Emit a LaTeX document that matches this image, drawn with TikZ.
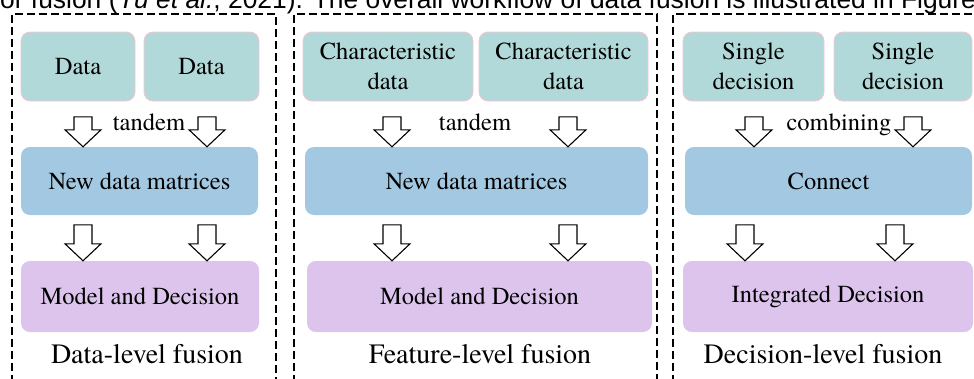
\documentclass[tikz,border=0pt]{standalone}
\usepackage{fontspec}
\setmainfont{texgyretermes}[Extension=.otf, UprightFont=*-regular,
  BoldFont=*-bold, ItalicFont=*-italic, BoldItalicFont=*-bolditalic]
\newfontfamily\runningfont{Liberation Sans}
\usetikzlibrary{calc}
\usetikzlibrary{positioning}

\definecolor{tealbox}{HTML}{B1D9D9}
\definecolor{pinkedge}{HTML}{F5C6D0}
\definecolor{bluebox}{HTML}{A3C8E2}
\definecolor{purplebox}{HTML}{DCC4EC}

\tikzset{
  fusebox/.style={rounded corners=9pt, inner sep=0pt, align=center,
    font=\fontsize{24.5}{30}\selectfont},
  inbox/.style={fusebox, fill=tealbox, draw=pinkedge, line width=0.8pt,
    minimum height=69pt},
  midbox/.style={fusebox, fill=bluebox, minimum height=68pt},
  outbox/.style={fusebox, fill=purplebox, minimum height=71pt},
  framed/.style={draw=black, line width=1.6pt, dash pattern=on 8pt off 4pt},
  hollow/.style={draw=black, fill=white, line width=1.1pt, line join=miter},
  caption/.style={anchor=base, inner sep=0pt, font=\fontsize{28}{30}\selectfont},
  joinlabel/.style={anchor=base, inner sep=0pt, font=\fontsize{24.5}{30}\selectfont}
}

% block arrow: x position, shaft length, box it points at
\newcommand{\fusearrow}[3]{%
  \draw[hollow] (#1,0 |- #3.north) -- ++(-18,-17) -- ++(9,0) -- ++(0,-#2)
    -- ++(18,0) -- ++(0,#2) -- ++(9,0) -- cycle;
}

\begin{document}
\begin{tikzpicture}[x=1pt, y=-1pt]
  \useasboundingbox (0,0) rectangle (974,378);
  \clip (0,0) rectangle (974,378);

  % line of running text cut by the page
  \node[anchor=base west, inner sep=0pt,
    font=\runningfont\fontsize{26.4}{30}\selectfont] (para) at (0,8)
    {or fusion (\textit{Yu et al.}, 2021). The overall workflow of data fusion is illustrated in Figure};

  % dashed frames
  \begin{scope}[framed]
    \draw (12,395) -- (12,14) -- (276,14) -- (276,395);
    \draw (294,395) -- (294,14) -- (657,14) -- (657,395);
    \draw (673,395) -- (673,14) -- (990,14);
  \end{scope}

  % data-level fusion
  \node[inbox, minimum width=114pt] (d1) at (78,66.5) {Data};
  \node[inbox, minimum width=115pt] (d2) at (201.5,66.5) {Data};
  \node[midbox, minimum width=237pt] (m1) at (139.5,181) {New data matrices};
  \node[outbox, minimum width=238pt] (r1) at (140,296.5) {Model and Decision};
  \node[joinlabel] (j1) at (149,130) {tandem};
  \node[caption] (f1) at (147,363) {Data-level fusion};
  \fusearrow{83}{13}{m1}
  \fusearrow{207}{13}{m1}
  \fusearrow{83}{19}{r1}
  \fusearrow{207}{19}{r1}

  % feature-level fusion
  \node[inbox, minimum width=170pt] (c1) at (388,66.5) {Characteristic\\data};
  \node[inbox, minimum width=169pt] (c2) at (563.5,66.5) {Characteristic\\data};
  \node[midbox, minimum width=343pt] (m2) at (476.5,181) {New data matrices};
  \node[outbox, minimum width=345pt] (r2) at (479.5,296.5) {Model and Decision};
  \node[joinlabel] (j2) at (475,130) {tandem};
  \node[caption] (f2) at (480,363) {Feature-level fusion};
  \fusearrow{392}{13}{m2}
  \fusearrow{568}{13}{m2}
  \fusearrow{392}{19}{r2}
  \fusearrow{568}{19}{r2}

  % decision-level fusion
  \node[inbox, minimum width=141pt] (s1) at (753.5,66.5) {Single\\decision};
  \node[inbox, minimum width=138pt] (s2) at (903,66.5) {Single\\decision};
  \node[midbox, minimum width=287pt] (m3) at (828.5,181) {Connect};
  \node[outbox, minimum width=290pt] (r3) at (828,296.5) {Integrated Decision};
  \node[joinlabel] (j3) at (839,130) {combining};
  \node[caption] (f3) at (823,363) {Decision-level fusion};
  \fusearrow{754}{13}{m3}
  \fusearrow{913}{13}{m3}
  \fusearrow{745}{19}{r3}
  \fusearrow{895}{19}{r3}
\end{tikzpicture}
\end{document}
